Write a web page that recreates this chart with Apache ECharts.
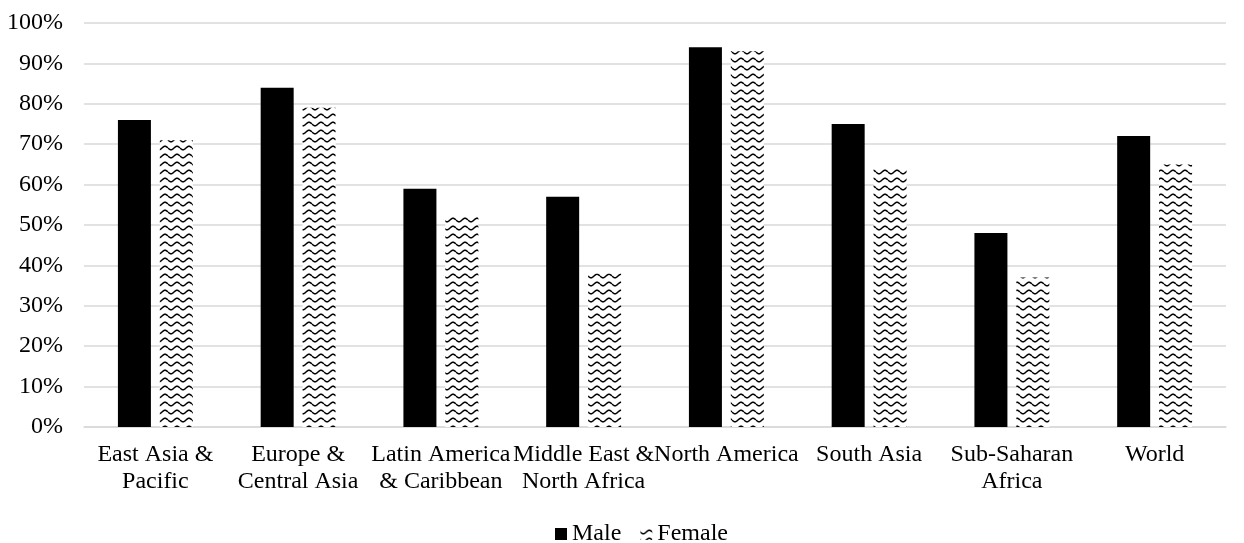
<!DOCTYPE html>
<html>
<head>
<meta charset="utf-8">
<script src="https://cdn.jsdelivr.net/npm/echarts@6/dist/echarts.min.js"></script>
<style>
  html, body { margin: 0; padding: 0; background: #fff; }
  #chart { width: 1244px; height: 543px; }
</style>
</head>
<body>
<div id="chart"></div>
<script>
const categories = [
  'East Asia &\nPacific',
  'Europe &\nCentral Asia',
  'Latin America\n& Caribbean',
  'Middle East &\nNorth Africa',
  'North America',
  'South Asia',
  'Sub-Saharan\nAfrica',
  'World'
];
const maleValues = [76, 84, 59, 57, 94, 75, 48, 72];
const femaleValues = [71, 79, 52, 38, 93, 64, 37, 65];

// Wavy black-on-white fill used for the Female bars
function wavePattern() {
  const w = 12, h = 8;
  const c = document.createElement('canvas');
  c.width = w;
  c.height = h;
  const ctx = c.getContext('2d');
  ctx.fillStyle = '#fff';
  ctx.fillRect(0, 0, w, h);
  ctx.strokeStyle = '#000';
  ctx.lineWidth = 1.5;
  ctx.beginPath();
  for (let x = 0; x <= w; x += 0.5) {
    const y = 4 + 1.7 * Math.sin((x / w) * Math.PI * 2);
    if (x === 0) ctx.moveTo(x, y); else ctx.lineTo(x, y);
  }
  ctx.stroke();
  return c;
}

const font = '"Liberation Serif", "Times New Roman", serif';
const chart = echarts.init(document.getElementById('chart'));
chart.setOption({
  animation: false,
  textStyle: { fontFamily: font },
  grid: { left: 84, right: 18, top: 23, bottom: 116 },
  legend: {
    top: 517,
    left: 550,
    itemWidth: 12,
    itemHeight: 12,
    itemGap: 19,
    textStyle: { fontFamily: font, fontSize: 24, color: '#000' },
    data: [
      { name: 'Male', icon: 'rect' },
      { name: 'Female', icon: 'rect' }
    ]
  },
  xAxis: {
    type: 'category',
    data: categories,
    axisLine: { lineStyle: { color: '#d9d9d9', width: 1.5 } },
    axisTick: { show: false },
    axisLabel: {
      color: '#000',
      fontFamily: font,
      fontSize: 24,
      lineHeight: 27,
      margin: 14,
      interval: 0
    }
  },
  yAxis: {
    type: 'value',
    min: 0,
    max: 100,
    interval: 10,
    axisLabel: {
      formatter: '{value}%',
      color: '#000',
      fontFamily: font,
      fontSize: 24,
      margin: 21
    },
    splitLine: { lineStyle: { color: '#d9d9d9', width: 1.5 } },
    axisLine: { show: false },
    axisTick: { show: false }
  },
  series: [
    {
      name: 'Male',
      type: 'bar',
      data: maleValues,
      barWidth: 33,
      barGap: '27%',
      itemStyle: { color: '#000' }
    },
    {
      name: 'Female',
      type: 'bar',
      data: femaleValues,
      barWidth: 33,
      itemStyle: { color: { image: wavePattern(), repeat: 'repeat' } }
    }
  ]
});
</script>
</body>
</html>
